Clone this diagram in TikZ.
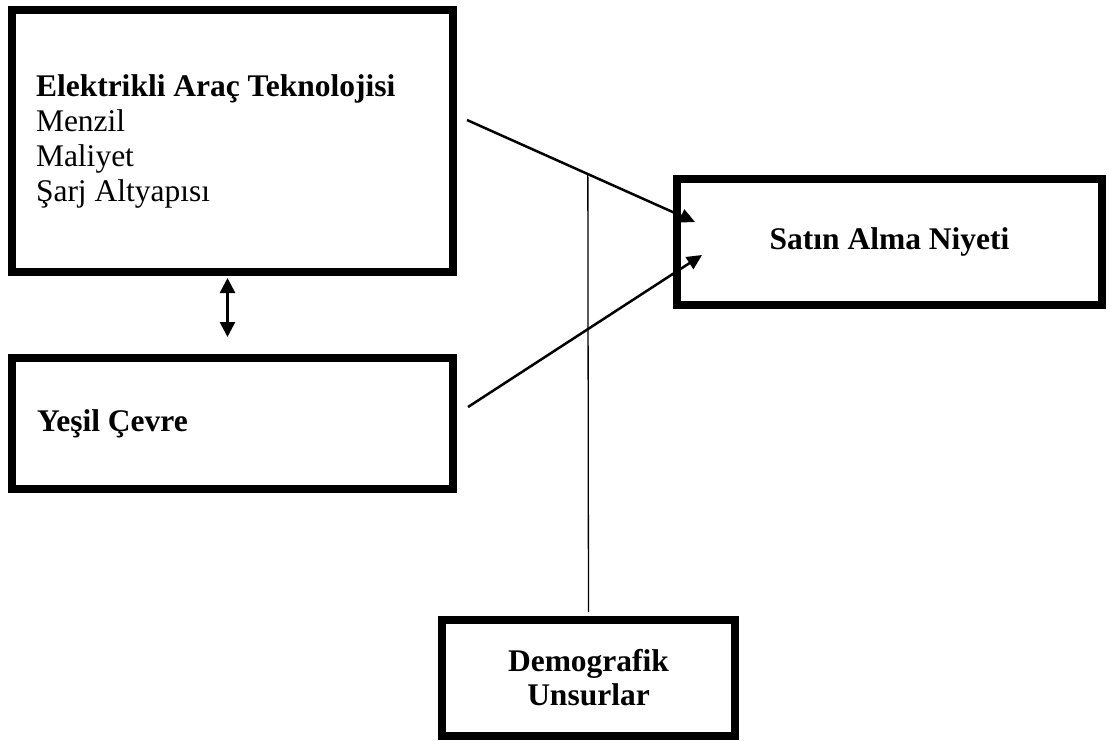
\documentclass[tikz,border=0pt]{standalone}
\usepackage{fontspec}
\setmainfont{Liberation Serif}
\usetikzlibrary{arrows.meta,positioning,calc}

\begin{document}
\begin{tikzpicture}[x=1pt,y=-1pt,>={Triangle[length=15pt,width=14pt]},
                    box/.style={rectangle,draw,line width=7.5pt,outer sep=0pt,inner xsep=24pt,
                                font=\fontsize{31.5}{35}\selectfont},
                    link/.style={->,line width=2.5pt}]
      \useasboundingbox (0,0) rectangle (1109,740);

      \node[box,minimum width=441pt,minimum height=262pt,text width=393pt,align=flush left] (eat) at (232.5,141)
        {\textbf{Elektrikli Araç Teknolojisi}\\Menzil\\Maliyet\\Şarj Altyapısı};
      \node[box,minimum width=441pt,minimum height=131pt,text width=391pt,inner xsep=25pt,align=flush left,
            font=\fontsize{31.5}{35}\selectfont\bfseries] (yesil) [below=86pt of eat] {Yeşil Çevre};
      \node[box,minimum width=425pt,minimum height=126pt,font=\fontsize{31.5}{35}\selectfont\bfseries] (sat) at (889.5,242) {Satın Alma Niyeti};
      \node[box,minimum width=293pt,minimum height=116pt,align=center,
            font=\fontsize{31.5}{34}\selectfont\bfseries] (demo) at (588.5,678) {Demografik\\Unsurlar};

      \coordinate (eat-out) at ($(eat.east)+(14,-21)$);
      \coordinate (yesil-out) at ($(yesil.east)+(15,-16.5)$);
      \coordinate (sat-in1) at ($(sat.west)+(18,-20)$);
      \coordinate (sat-in2) at ($(sat.west)+(25,13)$);

      \draw[link] (eat-out) -- coordinate[pos=.53] (mod) (sat-in1);
      \draw[link] (yesil-out) -- (sat-in2);
      \draw[line width=1.3pt,shorten <=8pt] (demo.north) -- (mod);
      \draw[<->,line width=2.7pt,>={Triangle[length=15pt,width=15pt]},shorten <=6pt,shorten >=21pt]
        ([xshift=-5pt]eat.south) -- ([xshift=-5pt]yesil.north);
\end{tikzpicture}
\end{document}
